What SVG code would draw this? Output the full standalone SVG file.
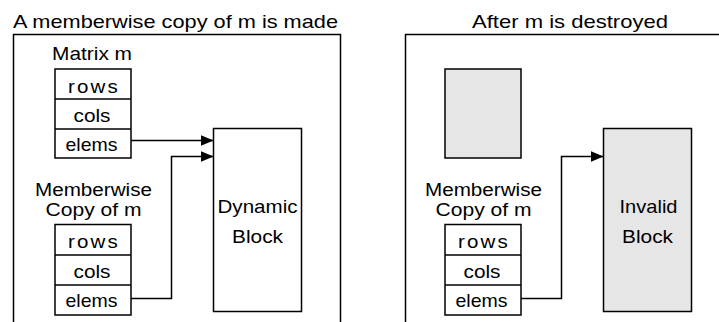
<svg xmlns="http://www.w3.org/2000/svg" width="719" height="322" viewBox="0 0 719 322">
<style>
text{font-family:"Liberation Sans",Arial,Helvetica,sans-serif;font-size:19px;fill:#000}
text.two{font-size:18px}
text.sp{letter-spacing:2px}
.frame{fill:none;stroke:#000;stroke-width:1.5}
.box{fill:#fff;stroke:#000;stroke-width:1.5}
.gray{fill:#e6e6e6;stroke:#000;stroke-width:1.5}
.wire{fill:none;stroke:#000;stroke-width:1.5}
</style>
<defs>
<marker id="arr" viewBox="0 0 13 11" refX="13" refY="5.5" markerWidth="13" markerHeight="11" markerUnits="userSpaceOnUse" orient="auto">
<path d="M0,0 L13,5.5 L0,11 z" fill="#000"/>
</marker>
</defs>

<g id="panel-left">
<text x="13" y="28" textLength="325" lengthAdjust="spacingAndGlyphs">A memberwise copy of m is made</text>
<path class="frame" d="M13.5,322 V34.5 H340.5 V322"/>
</g>
<g id="panel-right">
<text x="472" y="28" textLength="196" lengthAdjust="spacingAndGlyphs">After m is destroyed</text>
<path class="frame" d="M405.5,322 V34.5 H730"/>
</g>

<g id="matrix-m">
<text x="52" y="60" textLength="80" lengthAdjust="spacingAndGlyphs">Matrix m</text>
<rect class="box" x="55" y="69" width="76" height="89"/>
<line class="wire" x1="55" y1="99" x2="131" y2="99"/>
<line class="wire" x1="55" y1="129" x2="131" y2="129"/>
<text class="sp" x="68" y="93" textLength="52" lengthAdjust="spacingAndGlyphs">rows</text>
<text x="73.5" y="122" textLength="37" lengthAdjust="spacingAndGlyphs">cols</text>
<text x="65.5" y="151" textLength="52" lengthAdjust="spacingAndGlyphs">elems</text>
</g>

<g id="copy-left">
<text class="two" x="35" y="196" textLength="117" lengthAdjust="spacingAndGlyphs">Memberwise</text>
<text class="two" x="45.5" y="216" textLength="96" lengthAdjust="spacingAndGlyphs">Copy of m</text>
<rect class="box" x="55" y="224.5" width="76" height="90.5"/>
<line class="wire" x1="55" y1="255" x2="131" y2="255"/>
<line class="wire" x1="55" y1="285" x2="131" y2="285"/>
<text class="sp" x="68" y="248" textLength="52" lengthAdjust="spacingAndGlyphs">rows</text>
<text x="73.5" y="278" textLength="37" lengthAdjust="spacingAndGlyphs">cols</text>
<text x="65.5" y="307" textLength="52" lengthAdjust="spacingAndGlyphs">elems</text>
</g>

<g id="dynamic-block">
<rect class="box" x="213.5" y="128.5" width="88" height="183"/>
<text x="217.5" y="213" textLength="80" lengthAdjust="spacingAndGlyphs">Dynamic</text>
<text x="232" y="242.5" textLength="51" lengthAdjust="spacingAndGlyphs">Block</text>
</g>

<g id="destroyed-m">
<rect class="gray" x="445" y="69" width="76" height="89"/>
</g>

<g id="copy-right">
<text class="two" x="425" y="196" textLength="117" lengthAdjust="spacingAndGlyphs">Memberwise</text>
<text class="two" x="435.5" y="216" textLength="96" lengthAdjust="spacingAndGlyphs">Copy of m</text>
<rect class="box" x="445" y="224.5" width="76" height="90.5"/>
<line class="wire" x1="445" y1="255" x2="521" y2="255"/>
<line class="wire" x1="445" y1="285" x2="521" y2="285"/>
<text class="sp" x="458" y="248" textLength="52" lengthAdjust="spacingAndGlyphs">rows</text>
<text x="463.5" y="278" textLength="37" lengthAdjust="spacingAndGlyphs">cols</text>
<text x="455.5" y="307" textLength="52" lengthAdjust="spacingAndGlyphs">elems</text>
</g>

<g id="invalid-block">
<rect class="gray" x="603.5" y="128.5" width="88" height="183"/>
<text x="619.5" y="213" textLength="58" lengthAdjust="spacingAndGlyphs">Invalid</text>
<text x="622" y="242.5" textLength="51" lengthAdjust="spacingAndGlyphs">Block</text>
</g>

<g id="connectors">
<path class="wire" d="M131,140.5 H213.5" marker-end="url(#arr)"/>
<path class="wire" d="M131,298.5 H171.5 V156.5 H213.5" marker-end="url(#arr)"/>
<path class="wire" d="M521,298.5 H561.5 V156.5 H603.5" marker-end="url(#arr)"/>
</g>
</svg>
